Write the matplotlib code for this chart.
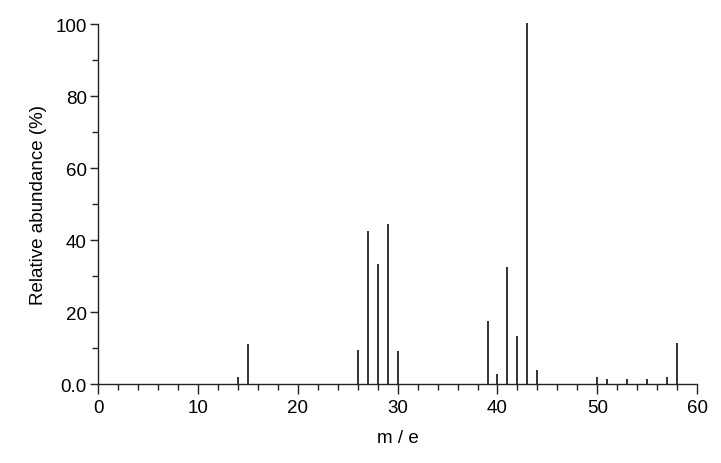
import matplotlib.pyplot as plt
from matplotlib.ticker import MultipleLocator

plt.rcParams['font.family'] = ['Liberation Sans', 'DejaVu Sans']

# mass spectrum peaks
mz = [14, 15, 26, 27, 28, 29, 30, 39, 40, 41, 42, 43, 44, 50, 51, 53, 55, 57, 58]
abundance = [1.9, 11.2, 9.5, 42.5, 33.4, 44.5, 9.2, 17.5, 2.8, 32.4, 13.3, 100.3, 3.9,
             1.9, 1.4, 1.4, 1.4, 2.1, 11.4]

yticks = [0, 20, 40, 60, 80, 100]
yticklabels = ['0.0', '20', '40', '60', '80', '100']

fig = plt.figure(figsize=(7.21, 4.64), dpi=100)
ax = fig.add_axes([0.136, 0.170, 0.831, 0.776])

ax.vlines(mz, 0, abundance, colors='#222222', linewidth=1.3, clip_on=False)

ax.set_xlim(0, 60)
ax.set_ylim(0, 100)
ax.xaxis.set_major_locator(MultipleLocator(10))
ax.xaxis.set_minor_locator(MultipleLocator(2))
ax.set_yticks(yticks)
ax.set_yticklabels(yticklabels)
ax.yaxis.set_minor_locator(MultipleLocator(10))

for s in ['top', 'right']:
    ax.spines[s].set_visible(False)
for s in ['left', 'bottom']:
    ax.spines[s].set_linewidth(1.0)
    ax.spines[s].set_color('#222222')

ax.tick_params(which='major', length=6, width=1.0, color='#222222', labelsize=13.5, pad=2)
ax.tick_params(axis='x', which='major', length=7, pad=4)
ax.tick_params(which='minor', length=4, width=1.0, color='#222222')

ax.set_xlabel('m / e', fontsize=13.5, labelpad=9)
ax.set_ylabel('Relative abundance (%)', fontsize=13.5, labelpad=6)

fig.savefig('out.png', dpi=100)
